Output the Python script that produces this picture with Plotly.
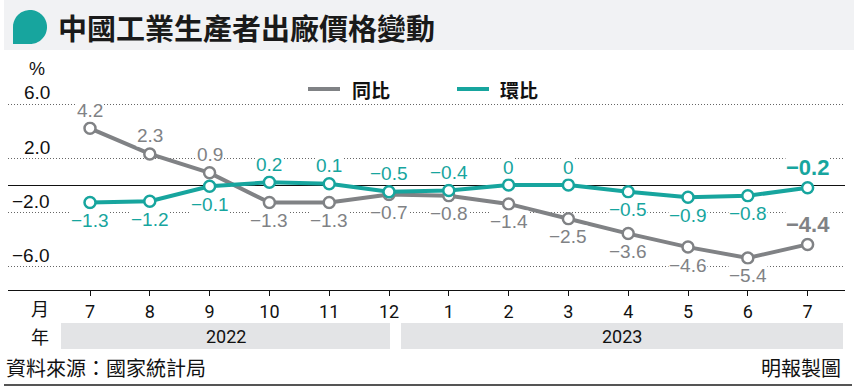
import numpy as np
import plotly.graph_objects as go

# ---------------- data ----------------
months = ["7", "8", "9", "10", "11", "12", "1", "2", "3", "4", "5", "6", "7"]
years = ["2022", "2023"]
yoy = [4.2, 2.3, 0.9, -1.3, -1.3, -0.7, -0.8, -1.4, -2.5, -3.6, -4.6, -5.4, -4.4]   # 同比
mom = [-1.3, -1.2, -0.1, 0.2, 0.1, -0.5, -0.4, 0, 0, -0.5, -0.9, -0.8, -0.2]     # 環比
y_ticks = [6.0, 2.0, -2.0, -6.0]
series_names = ["同比", "環比"]

# ---------------- style ----------------
GREY = "#808285"
TEAL = "#17a59e"
NUM_FONT = "Liberation Sans, Arial, sans-serif"
NARROW_FONT = "Liberation Sans Narrow, Roboto, Liberation Sans, sans-serif"
CJK_FONT = "Noto Sans CJK TC, Noto Sans CJK SC, sans-serif"
# label placement (+1 above, -1 below)
yoy_side = [1, 1, 1, -1, -1, -1, -1, -1, -1, -1, -1, -1, 1]
mom_side = [-1, -1, -1, 1, 1, 1, 1, 1, 1, -1, -1, -1, 1]

W, H = 858, 390
PL, PR, PT, PB = 8, 845, 60, 290      # plot area in pixels
X0_PX, DX_PX = 90, 59.8               # first category position, spacing
Y0_PX, DY_PX = 185, 13.5              # zero line, px per unit

xr = [(PL - X0_PX) / DX_PX, (PR - X0_PX) / DX_PX]
yr = [(Y0_PX - PB) / DY_PX, (Y0_PX - PT) / DY_PX]


def px_x(px):
    return (px - PL) / (PR - PL)


def px_y(py):
    return (PB - py) / (PB - PT)


def fmt(v):
    if v == 0:
        return "0"
    return ("−" if v < 0 else "") + f"{abs(v):.1f}"


def text_at(px, py, text, font, xanchor="center", yanchor="middle"):
    return dict(x=px_x(px), y=px_y(py), xref="paper", yref="paper", text=text,
                xanchor=xanchor, yanchor=yanchor, showarrow=False, font=font)


xs = list(range(len(months)))

fig = go.Figure()
for vals, color in ((yoy, GREY), (mom, TEAL)):
    fig.add_trace(go.Scatter(
        x=xs, y=vals, mode="lines+markers",
        line=dict(color=color, width=4),
        marker=dict(size=11, color="white", line=dict(color=color, width=2.5)),
        cliponaxis=False, showlegend=False, hoverinfo="skip",
    ))

ann = []
# value labels
for vals, sides, color in ((yoy, yoy_side, GREY), (mom, mom_side, TEAL)):
    n = len(vals)
    for i, (v, s) in enumerate(zip(vals, sides)):
        last = i == n - 1
        ann.append(dict(
            x=i, y=v, xref="x", yref="y", text=(f"<b>{fmt(v)}</b>" if last else fmt(v)),
            xanchor="center", yanchor="middle",
            showarrow=False, yshift=(20 if last else 18) * s,
            font=dict(family=NUM_FONT, size=22 if last else 19, color=color),
            bgcolor="white", borderpad=0,
        ))

BLACK_NUM = dict(family=NUM_FONT, size=19, color="#111")
# y tick labels
for t in y_ticks:
    ann.append(text_at(52, Y0_PX - t * DY_PX - 11, fmt(t), BLACK_NUM, xanchor="right"))
ann.append(text_at(37, 69, "%", dict(family=NUM_FONT, size=18, color="#111")))

# x-row labels
CJK18 = dict(family=CJK_FONT, size=18, color="#111")
ann.append(text_at(40, 308, "月", CJK18))
ann.append(text_at(40, 336, "年", CJK18))

shapes = []
# year bands
band_edges = [(61, 390), (401, 843)]
for (a, b), yl in zip(band_edges, years):
    shapes.append(dict(type="rect", xref="paper", yref="paper",
                       x0=px_x(a), x1=px_x(b), y0=px_y(349), y1=px_y(323),
                       fillcolor="#e3e4e6", line=dict(width=0), layer="below"))
    ann.append(text_at((a + b) / 2, 336, yl, dict(family=NARROW_FONT, size=18, color="#111")))

# title band
shapes.append(dict(type="rect", xref="paper", yref="paper",
                   x0=px_x(4), x1=px_x(854), y0=px_y(50), y1=px_y(0),
                   fillcolor="#f1f2f4", line=dict(width=0), layer="below"))
# teal bubble
cx, cy, r = 30, 27, 17
pts = [(cx + r * np.cos(a), cy - r * np.sin(a)) for a in np.linspace(np.pi, -np.pi / 2, 60)]
pts = [(cx - r, cy + r)] + pts
path = "M " + " L ".join(f"{px_x(px):.5f},{px_y(py):.5f}" for px, py in pts) + " Z"
shapes.append(dict(type="path", xref="paper", yref="paper", path=path,
                   fillcolor=TEAL, line=dict(width=0)))
ann.append(text_at(56, 27, "<b>中國工業生產者出廠價格變動</b>",
                   dict(family=CJK_FONT, size=29, color="#1a1a1a"), xanchor="left"))

# legend
CJK19 = dict(family=CJK_FONT, size=19, color="#111")
for (l0, l1, tx), name, color in zip([(308, 340, 350), (457, 489, 498)], series_names, [GREY, TEAL]):
    shapes.append(dict(type="line", xref="paper", yref="paper",
                       x0=px_x(l0), x1=px_x(l1), y0=px_y(89), y1=px_y(89),
                       line=dict(color=color, width=4)))
    ann.append(text_at(tx, 89, f"<b>{name}</b>", CJK19, xanchor="left"))

# footer
CJK20 = dict(family=CJK_FONT, size=20, color="#111")
ann.append(text_at(4, 367, "資料來源：國家統計局", CJK20, xanchor="left"))
ann.append(text_at(843, 367, "明報製圖", CJK20, xanchor="right"))
shapes.append(dict(type="line", xref="paper", yref="paper",
                   x0=px_x(4), x1=px_x(852), y0=px_y(385), y1=px_y(385),
                   line=dict(color="#555", width=2)))

fig.update_layout(
    width=W, height=H,
    margin=dict(l=PL, r=W - PR, t=PT, b=H - PB, pad=0),
    paper_bgcolor="white", plot_bgcolor="white",
    xaxis=dict(range=xr, tickmode="array", tickvals=xs, ticktext=months,
               showgrid=False, zeroline=False, showline=True, linecolor="#111", linewidth=1,
               ticks="outside", ticklen=5, tickcolor="#111", tickwidth=1,
               tickfont=dict(family=NARROW_FONT, size=18, color="#111"), fixedrange=True),
    yaxis=dict(range=yr, tickmode="array", tickvals=y_ticks, showticklabels=False,
               showgrid=True, gridcolor="#666", gridwidth=1, griddash="1px,2px",
               zeroline=True, zerolinecolor="#111", zerolinewidth=1, fixedrange=True),
    annotations=ann, shapes=shapes,
)

fig.write_html("out.html", config={"displayModeBar": False, "staticPlot": True},
               post_script="document.body.style.margin='0';document.body.style.overflow='hidden';")
